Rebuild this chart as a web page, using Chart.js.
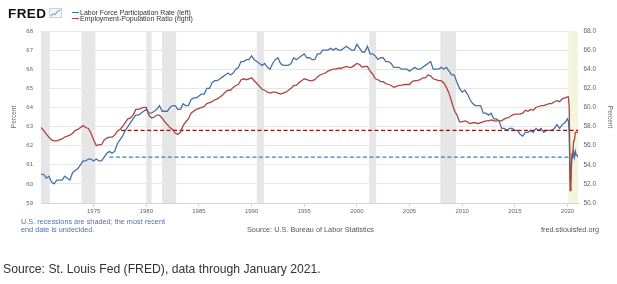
<!DOCTYPE html>
<html>
<head>
<meta charset="utf-8">
<title>Labor Force Participation Rate / Employment-Population Ratio</title>
<script src="https://cdn.jsdelivr.net/npm/chart.js@4.4.1/dist/chart.umd.min.js"></script>
<style>
  html, body { margin: 0; padding: 0; background: #fff; }
  #wrap { position: relative; width: 617px; height: 284px; overflow: hidden; font-family: "Liberation Sans", Arial, sans-serif; }
  #chart { position: absolute; left: 0; top: 0; }
  .txt { position: absolute; white-space: nowrap; line-height: 1; }
  #logo { left: 8px; top: 6.9px; font-size: 13.5px; font-weight: bold; letter-spacing: 0.4px; color: #111; }
  #icon { position: absolute; left: 49px; top: 8px; }
  .leg { left: 80px; font-size: 7px; color: #333; }
  .sw { position: absolute; left: 72px; width: 7px; height: 1.4px; }
  .note { font-size: 7.3px; }
  .blue-note { left: 21px; color: #4a72b0; }
  .grey-note { color: #555; }
  #source { left: 3px; top: 263.2px; font-size: 12.2px; color: #333; }
</style>
</head>
<body>
<div id="wrap">
  <canvas id="chart" width="617" height="284"></canvas>

  <div class="txt" id="logo">FRED</div>
  <svg id="icon" width="13" height="10" viewBox="0 0 13 10">
    <rect x="0.5" y="0.5" width="12" height="9" fill="#f4f6f8" stroke="#c9d3dc" stroke-width="1"/>
    <polyline points="1.5,8 4,6 6,6.5 8.5,3.5 11.5,2" fill="none" stroke="#7fb0d8" stroke-width="1.2"/>
  </svg>
  <span class="sw" style="top:12px;background:#4572A7"></span>
  <div class="txt leg" style="top:8.8px">Labor Force Participation Rate (left)</div>
  <span class="sw" style="top:18px;background:#AA4643"></span>
  <div class="txt leg" style="top:14.8px">Employment-Population Ratio (right)</div>

  <div class="txt note blue-note" style="top:217.8px">U.S. recessions are shaded; the most recent</div>
  <div class="txt note blue-note" style="top:225.8px">end date is undecided.</div>
  <div class="txt note grey-note" style="left:247px;top:225.8px">Source: U.S. Bureau of Labor Statistics</div>
  <div class="txt note grey-note" style="left:541px;top:225.8px">fred.stlouisfed.org</div>

  <div class="txt" id="source">Source: St. Louis Fed (FRED), data through January 2021.</div>
</div>

<script>
// ===== DATA =====
// Quarterly readings 1970Q1 .. 2019Q4 (one row per year)
const lfprQuarterly = [
  60.5, 60.5, 60.3, 60.4,
  60.1, 60.0, 60.2, 60.2,
  60.2, 60.4, 60.3, 60.2,
  60.6, 60.7, 60.8, 61.0,
  61.2, 61.2, 61.3, 61.3,
  61.2, 61.3, 61.2, 61.2,
  61.4, 61.6, 61.7, 61.6,
  61.7, 62.1, 62.3, 62.5,
  62.8, 63.0, 63.2, 63.4,
  63.6, 63.6, 63.7, 63.8,
  63.9, 63.7, 63.7, 63.8,
  63.9, 64.1, 63.8, 63.8,
  63.8, 64.0, 64.1, 64.1,
  63.9, 63.9, 64.2, 64.1,
  64.1, 64.4, 64.5, 64.5,
  64.6, 64.7, 64.7, 65.0,
  65.0, 65.3, 65.4, 65.4,
  65.5, 65.6, 65.7, 65.8,
  65.7, 65.8, 66.0, 66.1,
  66.4, 66.4, 66.5, 66.5,
  66.7, 66.5, 66.4, 66.3,
  66.2, 66.3, 66.1, 66.0,
  66.3, 66.5, 66.6, 66.3,
  66.2, 66.2, 66.2, 66.3,
  66.6, 66.5, 66.6, 66.7,
  66.8, 66.6, 66.6, 66.5,
  66.5, 66.8, 66.8, 67.0,
  67.0, 67.0, 67.1, 67.0,
  67.1, 67.0, 67.0, 67.1,
  67.2, 67.1, 67.0, 67.0,
  67.3, 67.1, 66.9, 66.9,
  67.2, 66.8, 66.8, 66.7,
  66.5, 66.6, 66.6, 66.4,
  66.4, 66.3, 66.1, 66.1,
  66.1, 66.0, 66.0, 66.0,
  65.9, 66.0, 66.1, 66.0,
  66.0, 66.1, 66.2, 66.3,
  66.4, 66.0, 66.0, 66.0,
  66.1, 66.0, 66.1, 65.9,
  65.7, 65.7, 65.3, 65.0,
  64.8, 64.9, 64.7, 64.4,
  64.2, 64.1, 64.1, 64.1,
  63.7, 63.7, 63.6, 63.7,
  63.4, 63.4, 63.3, 62.9,
  62.9, 62.8, 62.9, 62.9,
  62.8, 62.8, 62.6, 62.5,
  62.7, 62.7, 62.8, 62.7,
  62.9, 62.8, 62.9, 62.7,
  62.8, 62.8, 62.8, 62.9,
  63.1, 62.9, 63.1, 63.2
];
const epopQuarterly = [
  57.9, 57.6, 57.2, 56.9,
  56.6, 56.5, 56.5, 56.6,
  56.7, 56.9, 57.0, 57.1,
  57.3, 57.6, 57.7, 57.9,
  58.1, 57.9, 57.8, 57.3,
  56.6, 56.0, 56.1, 56.1,
  56.6, 56.8, 56.9, 56.9,
  57.1, 57.5, 57.7, 58.0,
  58.4, 58.8, 58.9, 59.2,
  59.8, 59.8, 59.9, 60.0,
  60.0, 59.2, 58.9, 59.0,
  59.2, 59.2, 58.9, 58.5,
  58.2, 57.9, 57.7, 57.3,
  57.2, 57.4, 58.1, 58.5,
  58.8, 59.4, 59.6, 59.8,
  59.9, 60.0, 60.1, 60.4,
  60.5, 60.6, 60.8, 60.9,
  61.1, 61.3, 61.6, 61.8,
  61.8, 62.1, 62.3, 62.4,
  62.9, 63.0, 62.9, 63.0,
  63.1, 62.8, 62.5, 62.2,
  61.9, 61.8, 61.6, 61.5,
  61.6, 61.6, 61.5, 61.4,
  61.5, 61.6, 61.8, 62.0,
  62.3, 62.3, 62.6, 62.8,
  63.0, 62.9, 62.8, 62.8,
  62.9, 63.2, 63.4, 63.5,
  63.6, 63.8, 63.9, 64.0,
  64.0, 64.1, 64.1, 64.2,
  64.3, 64.2, 64.2, 64.4,
  64.6, 64.5, 64.2, 64.3,
  64.3, 63.8, 63.5, 63.0,
  62.9, 62.7, 62.7, 62.5,
  62.4, 62.3, 62.1, 62.2,
  62.3, 62.3, 62.4, 62.4,
  62.4, 62.7, 62.8, 62.8,
  62.9, 63.1, 63.1, 63.4,
  63.3, 63.0, 62.9, 62.8,
  62.8, 62.6, 62.1, 61.5,
  60.6, 59.7, 59.2, 58.5,
  58.5, 58.6, 58.5, 58.3,
  58.4, 58.4, 58.3, 58.4,
  58.5, 58.6, 58.6, 58.7,
  58.6, 58.6, 58.6, 58.6,
  58.8, 58.9, 59.0, 59.2,
  59.3, 59.3, 59.3, 59.4,
  59.7, 59.6, 59.8, 59.7,
  60.0, 60.1, 60.2, 60.2,
  60.3, 60.4, 60.4, 60.6,
  60.7, 60.6, 60.9, 61.0
];
// Monthly readings Jan 2020 .. Jan 2021
const lfprMonthly = [63.4, 63.3, 62.7, 60.2, 60.8, 61.5, 61.4, 61.7, 61.4, 61.7, 61.5, 61.5, 61.4];
const epopMonthly = [61.1, 61.1, 60.0, 51.3, 52.8, 54.6, 55.2, 56.5, 56.6, 57.4, 57.4, 57.4, 57.5];

// Horizontal reference lines: [start year, level]
const lfprRef = [1976.5, 61.4];
const epopRef = [1977.6, 57.6];

// Recessions (decimal years); last one has no end yet
const recStart = [1969.917, 1973.833, 1980.0, 1981.5, 1990.5, 2001.167, 2007.917, 2020.083];
const recEnd   = [1970.833, 1975.167, 1980.5, 1982.833, 1991.167, 2001.833, 2009.417, null];

const yearTicks  = [1975, 1980, 1985, 1990, 1995, 2000, 2005, 2010, 2015, 2020];
const leftTicks  = [59, 60, 61, 62, 63, 64, 65, 66, 67, 68];
const rightTicks = [50, 52, 54, 56, 58, 60, 62, 64, 66, 68];

// ===== BUILD SERIES =====
function toPoints(quarterly, monthly) {
    const pts = quarterly.map((v, i) => ({ x: 1970 + i / 4, y: v }));
    return pts.concat(monthly.map((v, j) => ({ x: 2020 + j / 12, y: v })));
}

const FONT = 'Liberation Sans, Arial, sans-serif';
const LAST_X = 2021;

// ===== RECESSION SHADING =====
const recessionBands = {
    id: 'recessionBands',
    beforeDatasetsDraw(chart) {
        const { ctx, chartArea: a, scales: { x } } = chart;
        ctx.save();
        ctx.beginPath();
        ctx.rect(a.left, a.top, a.width, a.height);
        ctx.clip();
        recStart.forEach((s, i) => {
            const x0 = x.getPixelForValue(s);
            const x1 = recEnd[i] === null ? a.right : x.getPixelForValue(recEnd[i]);
            ctx.fillStyle = recEnd[i] === null ? '#f5f4dc' : '#e6e6e6';
            ctx.fillRect(x0, a.top, x1 - x0, a.height);
        });
        ctx.restore();
    }
};

// ===== CHART =====
const tickFont = { family: FONT, size: 6 };
const rightFont = { family: FONT, size: 6.5 };

new Chart(document.getElementById('chart').getContext('2d'), {
    type: 'line',
    data: {
        datasets: [
            { label: 'epopRef', data: [{ x: epopRef[0], y: epopRef[1] }, { x: LAST_X, y: epopRef[1] }],
              yAxisID: 'y1', borderColor: '#9e1212', borderWidth: 1.2, borderDash: [4, 2.5], pointRadius: 0, order: 0 },
            { label: 'lfprRef', data: [{ x: lfprRef[0], y: lfprRef[1] }, { x: LAST_X, y: lfprRef[1] }],
              yAxisID: 'y', borderColor: '#2686d6', borderWidth: 1.2, borderDash: [4, 2.5], pointRadius: 0, order: 1 },
            { label: 'Employment-Population Ratio (right)', data: toPoints(epopQuarterly, epopMonthly),
              yAxisID: 'y1', borderColor: '#AA4643', borderWidth: 1.3, pointRadius: 0, order: 2 },
            { label: 'Labor Force Participation Rate (left)', data: toPoints(lfprQuarterly, lfprMonthly),
              yAxisID: 'y', borderColor: '#4572A7', borderWidth: 1.3, pointRadius: 0, order: 3 }
        ]
    },
    options: {
        responsive: false,
        animation: false,
        events: [],
        layout: { padding: { top: 31, bottom: 61, left: 0, right: 0 } },
        plugins: { legend: { display: false }, tooltip: { enabled: false } },
        scales: {
            x: {
                type: 'linear', min: 1970, max: LAST_X,
                afterBuildTicks: s => { s.ticks = yearTicks.map(v => ({ value: v })); },
                afterFit: s => { s.height = 20; },
                grid: { drawOnChartArea: false, drawTicks: true, tickLength: 4, color: '#ccd6eb' },
                border: { display: true, color: '#ccd6eb' },
                ticks: { font: tickFont, color: '#666', padding: 1, maxRotation: 0, autoSkip: false, callback: v => String(v) }
            },
            y: {
                position: 'left', min: 59, max: 68,
                afterBuildTicks: s => { s.ticks = leftTicks.map(v => ({ value: v })); },
                afterFit: s => { s.width = 41; },
                grid: { color: '#e6e6e6', drawTicks: false },
                border: { display: false },
                ticks: { font: tickFont, color: '#666', padding: 8, callback: v => String(v) },
                title: { display: true, text: 'Percent', color: '#666', font: { family: FONT, size: 6.5 }, padding: { top: 10 } }
            },
            y1: {
                position: 'right', min: 50, max: 68,
                afterBuildTicks: s => { s.ticks = rightTicks.map(v => ({ value: v })); },
                afterFit: s => { s.width = 39; },
                grid: { drawOnChartArea: false, drawTicks: false },
                border: { display: false },
                ticks: { font: rightFont, color: '#666', padding: 5.5, callback: v => v.toFixed(1) },
                title: { display: true, text: 'Percent', color: '#666', font: { family: FONT, size: 6.5 }, padding: { top: 3 } }
            }
        }
    },
    plugins: [recessionBands]
});
</script>
</body>
</html>
